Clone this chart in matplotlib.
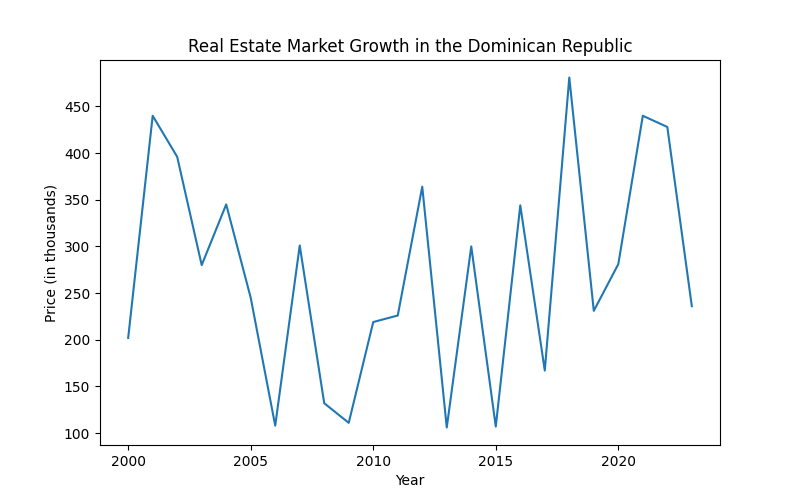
import matplotlib
matplotlib.use("Agg")
import matplotlib.pyplot as plt

years = list(range(2000, 2024))
prices = [202, 440, 396, 280, 345, 245, 108, 301, 132, 111, 219, 226,
          364, 106, 300, 107, 344, 167, 481, 231, 281, 440, 428, 236]

plt.figure(figsize=(8, 5), dpi=100)
plt.plot(years, prices)
plt.xlabel("Year")
plt.ylabel("Price (in thousands)")
plt.title("Real Estate Market Growth in the Dominican Republic")
plt.savefig("out.png")
